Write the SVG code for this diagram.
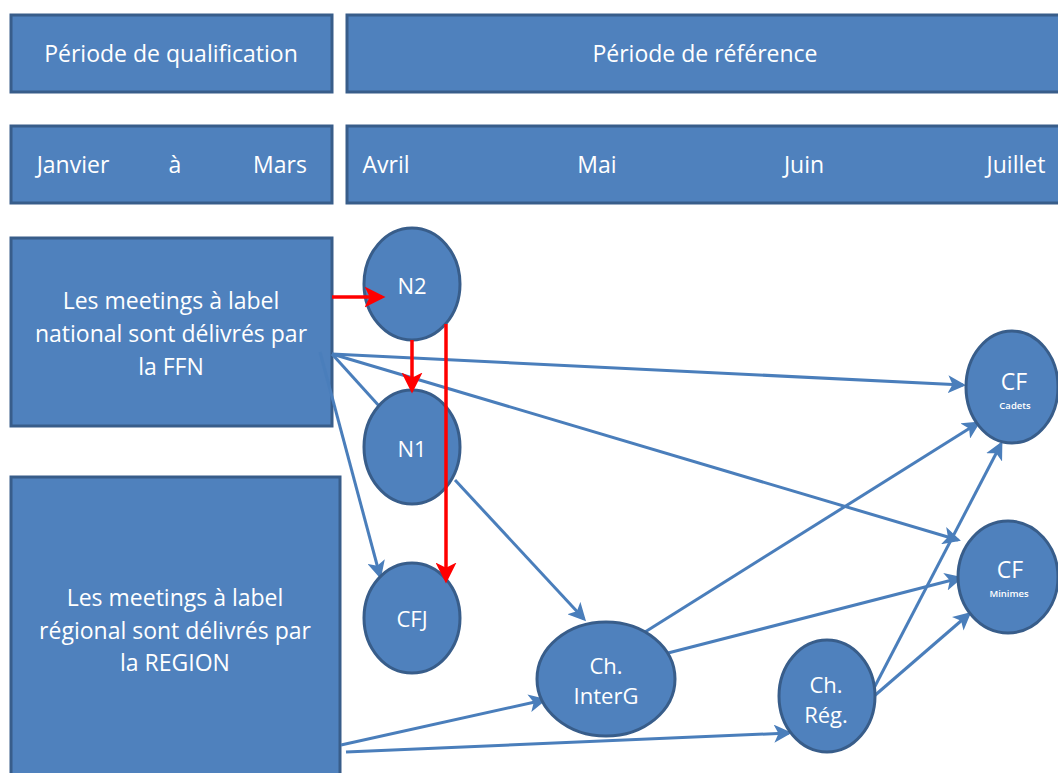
<svg xmlns="http://www.w3.org/2000/svg" width="1058" height="773" viewBox="0 0 1058 773">
<style>
.box{fill:#4F81BD;stroke:#385D8A;stroke-width:3}
.nd{fill:#4F81BD;stroke:#385D8A;stroke-width:3}
.t{fill:#FFFFFF;font-family:"Open Sans","Liberation Sans",sans-serif;font-size:23px;text-anchor:middle;dominant-baseline:central}
.n{font-size:22px}
.s{font-size:9.5px;font-weight:600}
.b{stroke:#4A7EBB;stroke-width:3;fill:none;marker-end:url(#ab)}
.bn{stroke:#4A7EBB;stroke-width:3;fill:none}
.r{stroke:#FF0000;stroke-width:3.5;fill:none;marker-end:url(#ar)}
</style>
<defs>
<marker id="ab" markerWidth="6" markerHeight="6" refX="5" refY="3" orient="auto" markerUnits="strokeWidth">
<path d="M0,0 L6,3 L0,6 L1.5,3 Z" fill="#4A7EBB"/>
</marker>
<marker id="ar" markerWidth="6" markerHeight="6" refX="5" refY="3" orient="auto" markerUnits="strokeWidth">
<path d="M0,0 L6,3 L0,6 L1.5,3 Z" fill="#FF0000"/>
</marker>
</defs>
<rect width="1058" height="773" fill="#FFFFFF"/>
<g id="box-qualif"><rect class="box" x="11" y="15" width="321" height="77"/><text class="t" x="171" y="53">Période de qualification</text></g>
<g id="box-ref"><rect class="box" x="347" y="15" width="714" height="77"/><text class="t" x="705" y="53">Période de référence</text></g>
<g id="box-jm"><rect class="box" x="11" y="126" width="321" height="77"/><text class="t" x="73" y="164">Janvier</text><text class="t" x="175" y="164">à</text><text class="t" x="280" y="164">Mars</text></g>
<g id="box-months"><rect class="box" x="347" y="126" width="714" height="77"/><text class="t" x="386" y="164">Avril</text><text class="t" x="597" y="164">Mai</text><text class="t" x="804" y="164">Juin</text><text class="t" x="1016" y="164">Juillet</text></g>
<g id="box-national"><rect class="box" x="11" y="238" width="321" height="188"/><text class="t" x="171" y="300">Les meetings à label</text><text class="t" x="171" y="333">national sont délivrés par</text><text class="t" x="171" y="366">la FFN</text></g>
<g id="box-regional"><rect class="box" x="11" y="477" width="329" height="300"/><text class="t" x="175" y="597">Les meetings à label</text><text class="t" x="175" y="630">régional sont délivrés par</text><text class="t" x="175" y="662">la REGION</text></g>
<g id="connectors">
<line class="b" x1="332" y1="354" x2="963" y2="385"/>
<line class="b" x1="332" y1="354" x2="958" y2="540"/>
<line class="bn" x1="332" y1="354" x2="380" y2="407"/>
<line class="b" x1="320" y1="352" x2="380" y2="576"/>
<line class="b" x1="455" y1="480" x2="584" y2="619"/>
<line class="b" x1="645" y1="632" x2="978" y2="423"/>
<line class="b" x1="668" y1="653" x2="960" y2="578"/>
<line class="b" x1="873" y1="690" x2="1001" y2="444"/>
<line class="b" x1="873" y1="697" x2="969" y2="614"/>
<line class="b" x1="341" y1="745" x2="544" y2="700"/>
<line class="b" x1="346" y1="752" x2="789" y2="733"/>
</g>
<g id="n2"><ellipse class="nd" cx="412" cy="284" rx="48" ry="56"/><text class="t n" x="412" y="285">N2</text></g>
<g id="n1"><ellipse class="nd" cx="412" cy="447" rx="48" ry="57"/><text class="t n" x="412" y="448">N1</text></g>
<g id="cfj"><ellipse class="nd" cx="412" cy="618" rx="48" ry="55"/><text class="t n" x="412" y="618">CFJ</text></g>
<g id="interg"><ellipse class="nd" cx="606" cy="679" rx="69" ry="57"/><text class="t n" x="606" y="665">Ch.</text><text class="t n" x="606" y="695">InterG</text></g>
<g id="reg"><ellipse class="nd" cx="827" cy="696" rx="48" ry="56"/><text class="t n" x="826" y="684">Ch.</text><text class="t n" x="826" y="714">Rég.</text></g>
<g id="cf-cadets"><ellipse class="nd" cx="1012" cy="387" rx="46" ry="56"/><text class="t" x="1014" y="381">CF</text><text class="t s" x="1015" y="405">Cadets</text></g>
<g id="cf-minimes"><ellipse class="nd" cx="1008" cy="577" rx="50" ry="56"/><text class="t" x="1010" y="569">CF</text><text class="t s" x="1009" y="593">Minimes</text></g>
<g id="red-connectors">
<line class="r" x1="332" y1="297" x2="382" y2="297"/>
<line class="r" x1="412" y1="340" x2="412" y2="390"/>
<line class="r" x1="446" y1="324" x2="446" y2="580"/>
</g>
</svg>
